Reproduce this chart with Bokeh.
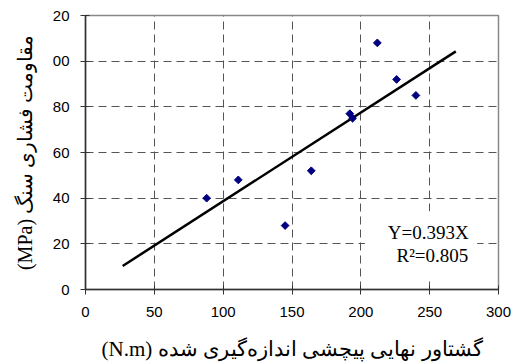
import numpy as np
from bokeh.plotting import figure
from bokeh.models import Label, BoxAnnotation
from bokeh.embed import file_html
from bokeh.resources import INLINE

# ---- data ----
torque = [88, 111, 145, 164, 192, 194, 212, 226, 240]
strength = [40, 48, 28, 52, 77, 75, 108, 92, 85]
trend_x = [27, 269]
trend_y = [10.3, 104.3]
eq_text = "Y=0.393X"
r2_text = "R\u00b2=0.805"
x_ticks = [0, 50, 100, 150, 200, 250, 300]
y_ticks = [0, 20, 40, 60, 80, 100, 120]
y_tick_labels = ["0", "20", "40", "60", "80", "00", "20"]
x_label = "(N.m) گشتاور نهایی پیچشی اندازه\u200cگیری شده"
y_label = "(MPa) مقاومت فشاری سنگ"

p = figure(width=516, height=363, output_backend="svg", toolbar_location=None,
           x_range=(0, 300), y_range=(0, 120),
           min_border_left=85, min_border_right=18, min_border_top=15, min_border_bottom=74,
           background_fill_color="white", border_fill_color="white")

p.xaxis.ticker = x_ticks
p.yaxis.ticker = y_ticks
p.yaxis.major_label_overrides = {t: l for t, l in zip(y_ticks, y_tick_labels)}

for ax in (p.xaxis, p.yaxis):
    ax.axis_line_color = "#333333"
    ax.axis_line_width = 1.5
    ax.major_tick_line_color = "#333333"
    ax.major_tick_in = 4
    ax.major_tick_out = 5
    ax.minor_tick_line_color = None
    ax.major_label_text_font = "Liberation Sans"
    ax.major_label_text_font_size = "15px"
    ax.major_label_text_color = "black"
    ax.axis_label_text_font = "Liberation Serif"
    ax.axis_label_text_font_style = "normal"
    ax.axis_label_text_color = "black"

p.xaxis.axis_label_text_font_size = "21px"
p.yaxis.axis_label_text_font_size = "20px"
p.xaxis.major_label_standoff = 12
p.yaxis.major_label_standoff = 11
p.xaxis.axis_label = x_label
p.yaxis.axis_label = y_label
p.xaxis.axis_label_standoff = 17
p.yaxis.axis_label_standoff = 14

p.grid.grid_line_color = "#555555"
p.grid.grid_line_dash = "8 5"
p.grid.grid_line_width = 1

p.outline_line_color = "#888888"
p.outline_line_width = 1.5

p.line(trend_x, trend_y, line_color="black", line_width=2.5)
p.scatter(torque, strength, marker="square", angle=np.pi / 4, size=5.5,
          fill_color="#000080", line_color="#000080", line_width=1)

p.add_layout(BoxAnnotation(left=203, right=284.5, bottom=4.3, top=34.3,
                           fill_color="white", fill_alpha=1.0, line_color=None))
p.add_layout(Label(x=249, y=24.9, text=eq_text, text_align="center", text_baseline="middle",
                   text_font="Liberation Serif", text_font_size="19px", text_color="black"))
p.add_layout(Label(x=252, y=15.1, text=r2_text, text_align="center", text_baseline="middle",
                   text_font="Liberation Serif", text_font_size="19px", text_color="black"))

open("out.html", "w").write(file_html(p, INLINE))
